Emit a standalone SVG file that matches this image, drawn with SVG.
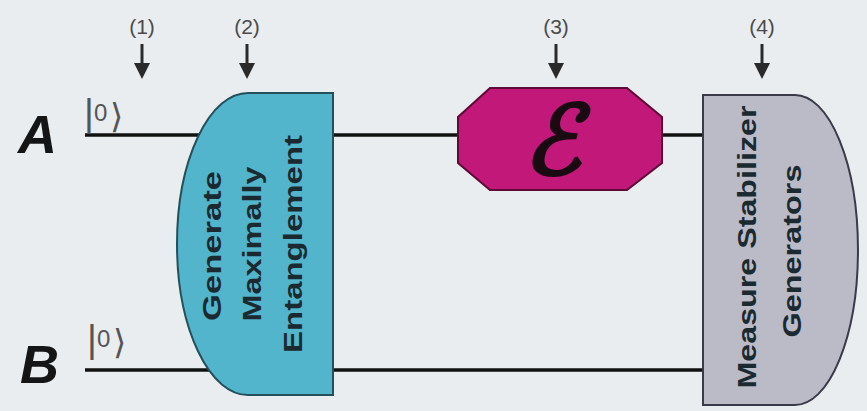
<svg xmlns="http://www.w3.org/2000/svg" width="867" height="411" viewBox="0 0 867 411">
<defs>
<style>
.lbl{font-family:"Liberation Sans",Arial,sans-serif;font-size:21px;fill:#4a4a4a;text-anchor:middle}
.wire{stroke:#111;stroke-width:3.5;fill:none}
.shaft{stroke:#2a2a2a;stroke-width:3}
.head{fill:#2a2a2a}
.big{font-family:"Liberation Sans",Arial,sans-serif;font-size:54px;font-weight:bold;font-style:italic;fill:#151515}
.ket{font-family:"Liberation Sans","DejaVu Sans",sans-serif;fill:#555}
.bt{font-family:"Liberation Sans",Arial,sans-serif;font-size:26px;font-weight:bold;fill:#1a2a30;text-anchor:middle;dominant-baseline:central}
</style>
</defs>
<rect width="867" height="411" fill="#e9edf0"/>
<g id="connectors">
<line class="wire" x1="85" y1="135" x2="705" y2="135"/>
<line class="wire" x1="85" y1="370" x2="705" y2="370"/>
</g>
<g id="markers">
<text class="lbl" x="142" y="34">(1)</text>
<line class="shaft" x1="142" y1="44" x2="142" y2="64"/>
<polygon class="head" points="134,63 150,63 142,79"/>
<text class="lbl" x="247" y="34">(2)</text>
<line class="shaft" x1="247" y1="44" x2="247" y2="64"/>
<polygon class="head" points="239,63 255,63 247,79"/>
<text class="lbl" x="556" y="34">(3)</text>
<line class="shaft" x1="556" y1="44" x2="556" y2="64"/>
<polygon class="head" points="548,63 564,63 556,79"/>
<text class="lbl" x="762" y="34">(4)</text>
<line class="shaft" x1="762" y1="44" x2="762" y2="64"/>
<polygon class="head" points="754,63 770,63 762,79"/>
</g>
<g id="qubitA">
<text class="big" x="18" y="153">A</text>
<text class="ket" x="84" y="126" font-size="38">|</text>
<text class="ket" x="94" y="121" font-size="24">0</text>
<text class="ket" x="110" y="128" font-size="34" font-family="DejaVu Sans">⟩</text>
</g>
<g id="qubitB">
<text class="big" x="20" y="383">B</text>
<text class="ket" x="87" y="352" font-size="38">|</text>
<text class="ket" x="97" y="347" font-size="24">0</text>
<text class="ket" x="113" y="354" font-size="34" font-family="DejaVu Sans">⟩</text>
</g>
<g id="entangle">
<path d="M 333 93 L 248 93 A 71 151 0 0 0 248 395 L 333 395 Z" fill="#53b5cb" stroke="#24505c" stroke-width="2"/>
<text class="bt" transform="translate(212,246) rotate(-90)" textLength="150" lengthAdjust="spacingAndGlyphs">Generate</text>
<text class="bt" transform="translate(252,244) rotate(-90)" textLength="155" lengthAdjust="spacingAndGlyphs">Maximally</text>
<text class="bt" transform="translate(293,244) rotate(-90)" textLength="218" lengthAdjust="spacingAndGlyphs">Entanglement</text>
</g>
<g id="channel">
<polygon points="490,88 627,88 662,117 662,163 627,190 490,190 458,163 458,117" fill="#c2187a" stroke="#5e0a36" stroke-width="2"/>
<text transform="translate(552,174) skewX(-14)" font-family="DejaVu Sans,sans-serif" font-size="96" fill="#1a0a12" stroke="#1a0a12" stroke-width="3.5" text-anchor="middle">ℰ</text>
</g>
<g id="measure">
<path d="M 703 95 L 795 95 A 63 155 0 0 1 795 405 L 703 405 Z" fill="#bbbbc8" stroke="#3a3a48" stroke-width="2"/>
<text class="bt" transform="translate(747,247) rotate(-90)" textLength="283" lengthAdjust="spacingAndGlyphs">Measure Stabilizer</text>
<text class="bt" transform="translate(792,251) rotate(-90)" textLength="173" lengthAdjust="spacingAndGlyphs">Generators</text>
</g>
</svg>
